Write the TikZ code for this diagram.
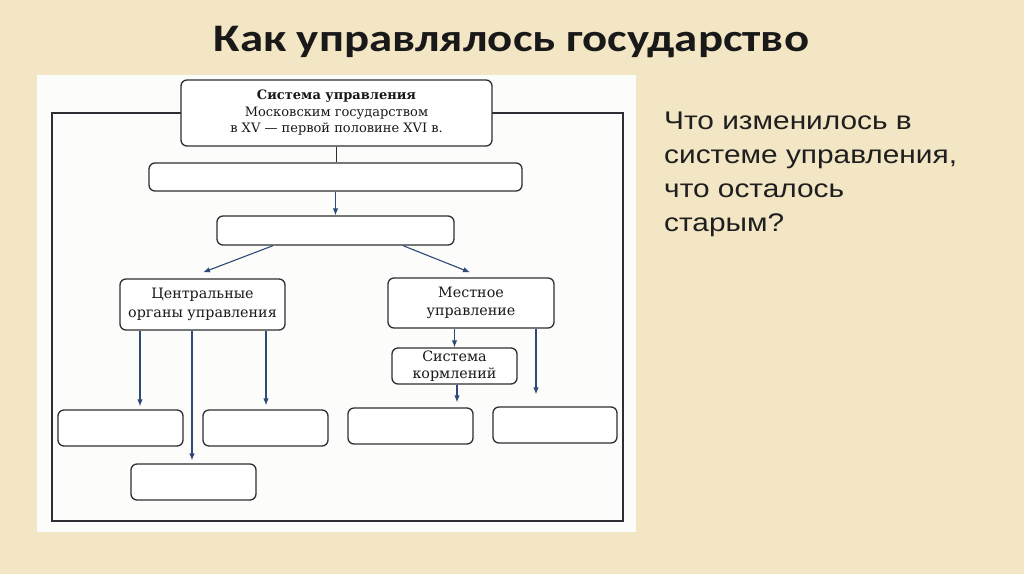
\documentclass[tikz,border=0pt]{standalone}
\usepackage{fontspec}
\usepackage{graphicx}
\setmainfont{DejaVu Serif}
\newfontfamily\titlefont{Carlito}
\newfontfamily\qfont{Liberation Sans}
\usetikzlibrary{arrows.meta,calc}
\definecolor{bg}{HTML}{F3E6C4}
\definecolor{panel}{HTML}{FCFCFA}
\definecolor{arrowblue}{HTML}{2E4A78}
\definecolor{boxline}{HTML}{2F2F33}
\begin{document}
\begin{tikzpicture}[x=1pt,y=-1pt,
  box/.style={draw=boxline, line width=1.3pt, rounded corners=6pt, fill=white, inner sep=0pt, align=center, font=\fontsize{14.3}{18.5}\selectfont, text=black!90},
  arr/.style={draw=arrowblue, line width=1.1pt, -{Latex[length=7pt,width=5.5pt]}},
  ln/.style={draw=boxline, line width=1.2pt}]
\useasboundingbox (0,0) rectangle (1024,574);
\fill[bg] (0,0) rectangle (1024,574);
\fill[panel] (37,75) rectangle (636,532);
\draw[ln] (52,113) rectangle (623,521);

\node[font=\titlefont\bfseries\fontsize{39}{46}\selectfont, anchor=base, inner sep=0pt, text=black!90] (title) at (511.5,51) {\scalebox{1.2}[1]{Как управлялось государство}};

\node[anchor=north west, inner sep=0pt, font=\qfont\fontsize{25.5}{34}\selectfont, text=black!88] (q) at (664,105)
  {\scalebox{1.17}[1]{\begin{tabular}{@{}l@{}}Что изменилось в\\системе управления,\\что осталось\\старым?\end{tabular}}};

\node[box, minimum width=311pt, minimum height=66pt, font=\fontsize{13}{16.5}\selectfont] (top) at (336.5,113)
  {\textbf{Система управления}\\Московским государством\\в XV — первой половине XVI в.};
\node[box, minimum width=373pt, minimum height=28pt] (b2) at (335.5,177) {};
\node[box, minimum width=237pt, minimum height=29pt] (b3) at (335.5,230.5) {};
\node[box, minimum width=165pt, minimum height=51pt] (central) at (202.5,304.5) {Центральные\\органы управления};
\node[box, minimum width=166pt, minimum height=50pt] (local) at (471,303) {Местное\\управление};
\node[box, minimum width=125pt, minimum height=36pt, font=\fontsize{14.3}{16.5}\selectfont] (korm) at (454.5,366) {Система\\кормлений};
\node[box, minimum width=125pt, minimum height=36pt] (A) at (120.5,428) {};
\node[box, minimum width=125pt, minimum height=36pt] (B) at (265.5,428) {};
\node[box, minimum width=125pt, minimum height=36pt] (C) at (193.5,482) {};
\node[box, minimum width=125pt, minimum height=36pt] (D) at (410.5,426) {};
\node[box, minimum width=124pt, minimum height=36pt] (E) at (555,425) {};

\draw[ln] (top.south) -- (top.south |- b2.north);
\draw[arr] (b2.south) -- (b3.north);
\draw[arr] ([xshift=-62.5pt]b3.south) -- ([xshift=0.5pt,yshift=6pt]central.north);
\draw[arr] ([xshift=67.5pt]b3.south) -- ([xshift=-1pt,yshift=5pt]local.north);
\draw[arr] ([xshift=19.5pt]A.north |- central.south) -- ([xshift=19.5pt,yshift=3pt]A.north);
\draw[arr] ([xshift=-1.5pt]C.north |- central.south) -- ([xshift=-1.5pt,yshift=3pt]C.north);
\draw[arr] ([xshift=0.5pt]B.north |- central.south) -- ([xshift=0.5pt,yshift=4pt]B.north);
\draw[arr] (korm.north |- local.south) -- (korm.north);
\draw[arr] ([xshift=46.5pt]D.north |- korm.south) -- ([xshift=46.5pt,yshift=5pt]D.north);
\draw[arr] ([xshift=-19pt]E.north |- local.south) -- ([xshift=-19pt,yshift=12pt]E.north);
\end{tikzpicture}
\end{document}
